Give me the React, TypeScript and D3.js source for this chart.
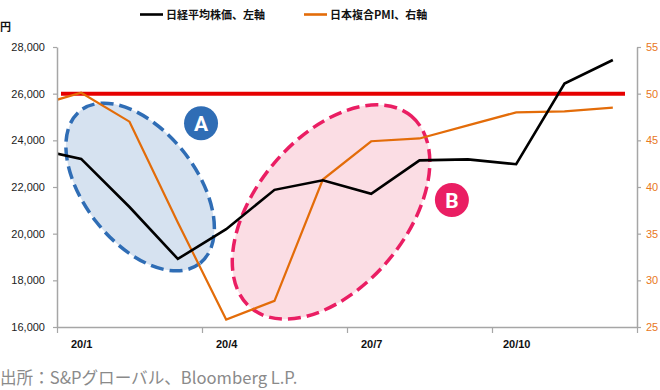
import React, { useEffect, useRef } from 'react';
import * as d3 from 'd3';

// monthly data, 2019/12 .. 2020/12 (first point sits left of the axis and is clipped)
const months = ['19/12', '20/1', '20/2', '20/3', '20/4', '20/5', '20/6', '20/7', '20/8', '20/9', '20/10', '20/11', '20/12'];
const nikkei = [23656, 23205, 21143, 18917, 20194, 21878, 22288, 21710, 23140, 23185, 22977, 26434, 27444];
const pmi = [48.6, 50.1, 47.0, 36.2, 25.8, 27.8, 40.8, 44.9, 45.2, 46.6, 48.0, 48.1, 48.5];

const leftTicks = [16000, 18000, 20000, 22000, 24000, 26000, 28000];
const rightTicks = [25, 30, 35, 40, 45, 50, 55];
const xLabelMonths = ['20/1', '20/4', '20/7', '20/10'];

const App = () => {
  const svgRef = useRef<SVGSVGElement>(null);

  useEffect(() => {
    const W = 660, H = 390;
    const left = 57, right = 637, top = 47, bottom = 327;

    const svg = d3.select(svgRef.current).attr('width', W).attr('height', H);
    svg.selectAll('*').remove();

    // month index: 0 = 19/12, 1 = 20/1 ... plot covers 20/1..20/12
    const x = d3.scaleLinear().domain([0.5, 12.5]).range([left, right]);
    const yL = d3.scaleLinear().domain([16000, 28000]).range([bottom, top]);
    const yR = d3.scaleLinear().domain([25, 55]).range([bottom, top]);

    svg.append('defs').append('clipPath').attr('id', 'plot')
      .append('rect').attr('x', left).attr('y', top - 10).attr('width', right - left).attr('height', bottom - top + 10);

    // annotation ellipses
    const ann = svg.append('g');
    ann.append('ellipse')
      .attr('transform', `translate(${x(2.22)},${yL(22000)}) rotate(52)`)
      .attr('rx', 97).attr('ry', 56)
      .attr('fill', '#d6e2f0').attr('stroke', '#2f6db5')
      .attr('stroke-width', 3.5).attr('stroke-dasharray', '13 6');
    ann.append('ellipse')
      .attr('transform', `translate(${x(6.17)},${yL(20930)}) rotate(-50)`)
      .attr('rx', 125).attr('ry', 75)
      .attr('fill', '#fbdde4').attr('stroke', '#ea1e63')
      .attr('stroke-width', 3.5).attr('stroke-dasharray', '13 6');

    // 50 line
    svg.append('line')
      .attr('x1', left + 4).attr('x2', right - 12)
      .attr('y1', yR(50)).attr('y2', yR(50))
      .attr('stroke', '#e60000').attr('stroke-width', 4);

    const g = svg.append('g').attr('clip-path', 'url(#plot)');

    const lineN = d3.line<number>().x((d, i) => x(i)).y(d => yL(d));
    const lineP = d3.line<number>().x((d, i) => x(i)).y(d => yR(d));

    g.append('path').datum(pmi)
      .attr('fill', 'none').attr('stroke', '#e36c09').attr('stroke-width', 2.2)
      .attr('d', lineP);
    g.append('path').datum(nikkei)
      .attr('fill', 'none').attr('stroke', '#000').attr('stroke-width', 2.6)
      .attr('d', lineN);

    // A / B badges
    const badges = [
      { label: 'A', i: 3.48, v: 24730, color: '#2f6db5' },
      { label: 'B', i: 8.67, v: 21440, color: '#ea1e63' },
    ];
    badges.forEach(b => {
      svg.append('circle').attr('cx', x(b.i)).attr('cy', yL(b.v)).attr('r', 17).attr('fill', b.color);
      svg.append('text').attr('x', x(b.i)).attr('y', yL(b.v) + 7.5)
        .attr('text-anchor', 'middle').attr('fill', '#fff')
        .attr('font-family', 'Roboto, Arial, sans-serif').attr('font-weight', 'bold').attr('font-size', 21)
        .text(b.label);
    });

    // axes
    const axisColor = '#a6a6a6';
    const styleAxis = (sel, color) => {
      sel.select('.domain').attr('stroke', axisColor).attr('stroke-width', 1.5);
      sel.selectAll('.tick line').attr('stroke', axisColor).attr('stroke-width', 1.2);
      sel.selectAll('text').attr('fill', color)
        .attr('font-family', '"Liberation Sans", Arial, sans-serif').attr('font-size', 11);
    };

    svg.append('g').attr('transform', `translate(${left},0)`)
      .call(d3.axisLeft(yL).tickValues(leftTicks).tickFormat(d3.format(',')).tickSizeInner(4).tickSizeOuter(0).tickPadding(8))
      .call(s => styleAxis(s, '#222'));

    svg.append('g').attr('transform', `translate(${right},0)`)
      .call(d3.axisRight(yR).tickValues(rightTicks).tickSizeInner(4).tickSizeOuter(0).tickPadding(5))
      .call(s => styleAxis(s, '#e87722'));

    svg.append('g').attr('transform', `translate(0,${bottom})`)
      .call(d3.axisBottom(x).tickValues([0.5, 3.5, 6.5, 9.5, 12.5]).tickFormat(() => '').tickSizeInner(6).tickSizeOuter(0))
      .call(s => styleAxis(s, '#222'));

    svg.append('g').attr('transform', `translate(0,${bottom})`)
      .call(d3.axisBottom(x).tickValues(xLabelMonths.map(m => months.indexOf(m))).tickFormat(i => months[i as number]).tickSize(0).tickPadding(13))
      .call(s => {
        s.select('.domain').remove();
        s.selectAll('text').attr('fill', '#111').attr('font-weight', 'bold')
          .attr('font-family', '"Liberation Sans", Arial, sans-serif').attr('font-size', 11);
      });

    // unit
    svg.append('text').attr('x', 0).attr('y', 31)
      .attr('font-family', '"Noto Sans CJK JP", sans-serif').attr('font-weight', 'bold').attr('font-size', 11)
      .attr('fill', '#111').text('円');

    // legend
    const legend = [
      { label: '日経平均株価、左軸', color: '#000', x0: 140 },
      { label: '日本複合PMI、右軸', color: '#e36c09', x0: 304 },
    ];
    legend.forEach(l => {
      svg.append('line').attr('x1', l.x0).attr('x2', l.x0 + 23).attr('y1', 14.5).attr('y2', 14.5)
        .attr('stroke', l.color).attr('stroke-width', 2.6);
      svg.append('text').attr('x', l.x0 + 26).attr('y', 18.5)
        .attr('font-family', '"Noto Sans CJK JP", sans-serif').attr('font-weight', 'bold').attr('font-size', 11)
        .attr('fill', '#111').text(l.label);
    });

    // source
    svg.append('text').attr('x', 0).attr('y', 384)
      .attr('font-family', '"Noto Sans CJK JP", sans-serif').attr('font-size', 16.6)
      .attr('fill', '#8a8a8a').text('出所：S&Pグローバル、Bloomberg L.P.');
  }, []);

  return <svg ref={svgRef} style={{ position: 'absolute', left: 0, top: 0, background: '#fff' }}></svg>;
};

export default App;
